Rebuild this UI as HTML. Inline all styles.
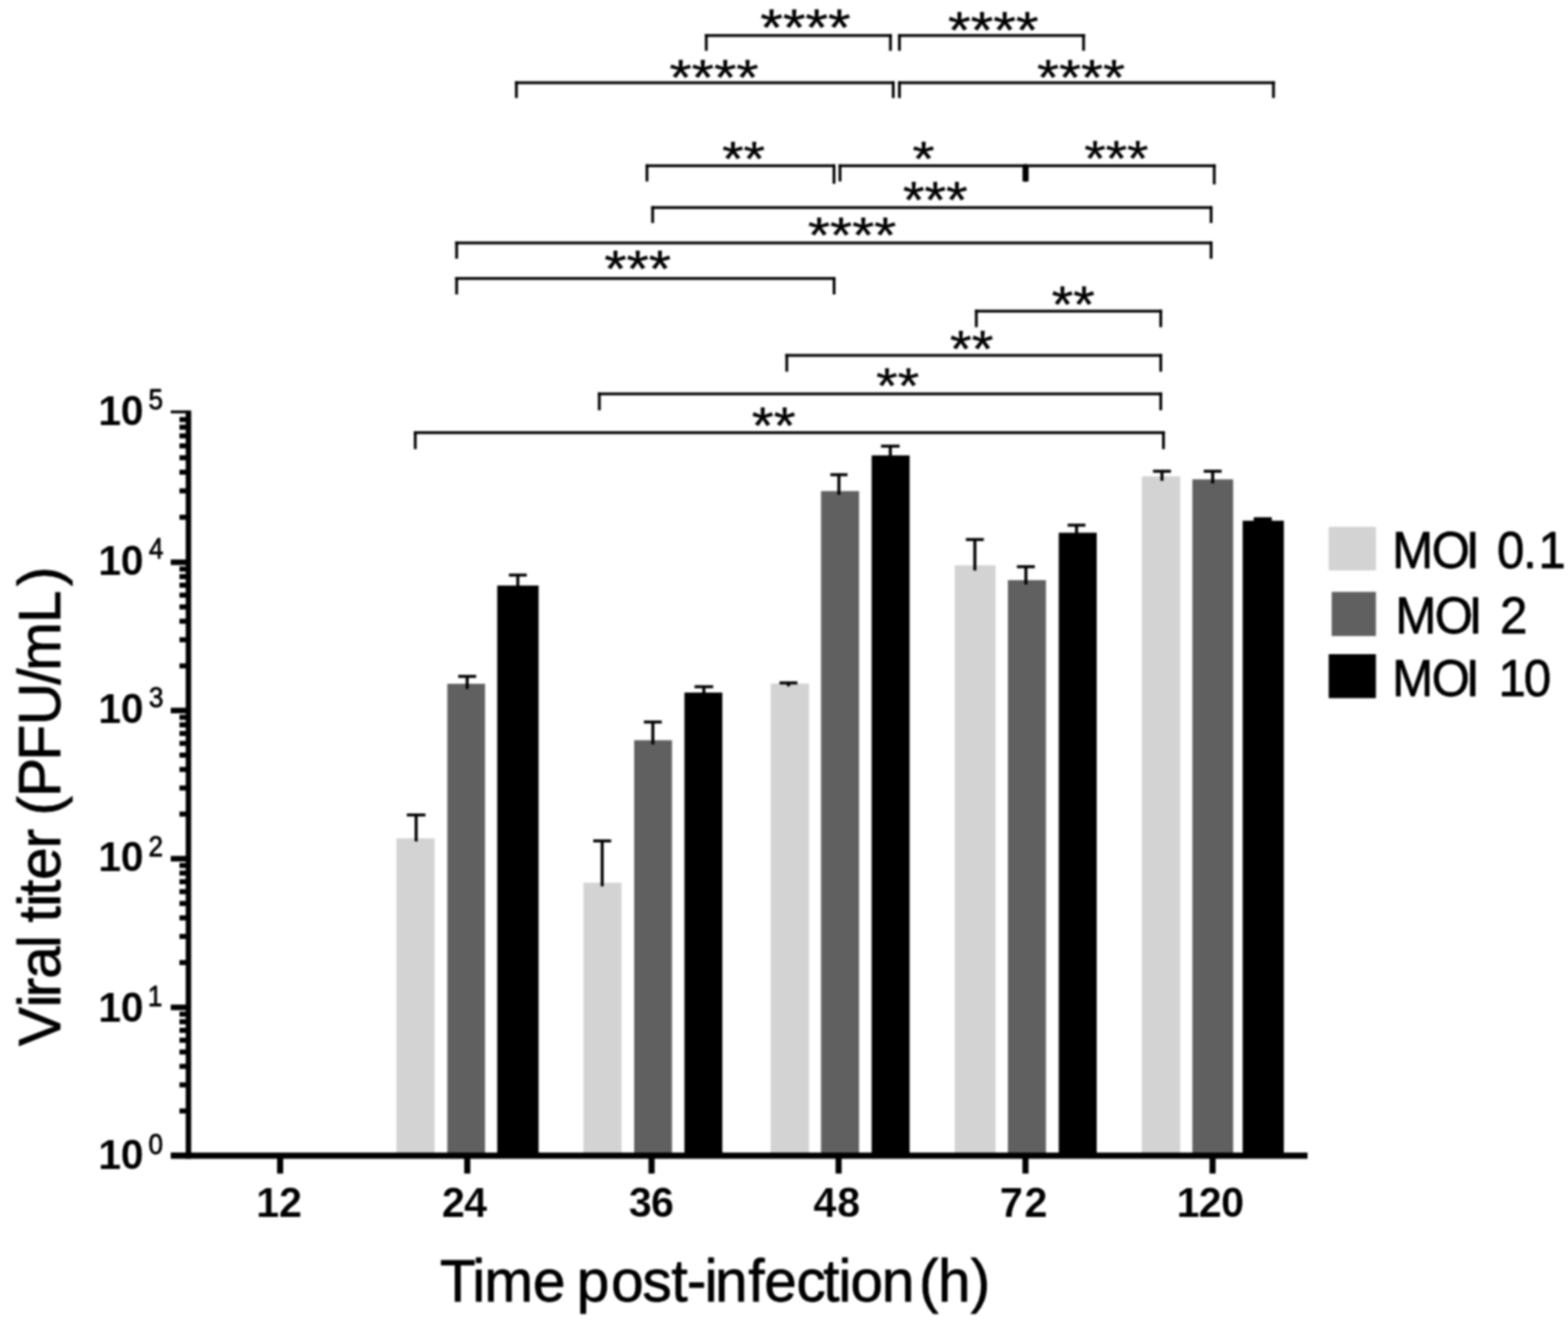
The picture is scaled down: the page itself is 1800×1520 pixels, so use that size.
<!DOCTYPE html>
<html lang="en">
<head>
<meta charset="utf-8">
<title>Viral titer by time post-infection</title>
<style>
html,body{margin:0;padding:0;background:#fff;}
body{width:1800px;height:1520px;overflow:hidden;}
svg{display:block;}
svg text{font-family:"Liberation Sans",sans-serif;white-space:pre;}
</style>
</head>
<body>
<svg width="1800" height="1520" viewBox="0 0 1800 1520" style="filter:blur(0.8px)">
<rect x="0" y="0" width="1800" height="1520" fill="#fff"/>
<rect x="455.1" y="962.4" width="43.7" height="362.1" fill="#d3d3d3"/>
<rect x="513.5" y="785" width="43.3" height="539.5" fill="#606060"/>
<rect x="570.8" y="672.2" width="47.5" height="652.3" fill="#000000"/>
<rect x="669.8" y="1013.4" width="43.7" height="311.1" fill="#d3d3d3"/>
<rect x="728" y="849.8" width="43.4" height="474.7" fill="#606060"/>
<rect x="785.7" y="795.1" width="43.5" height="529.4" fill="#000000"/>
<rect x="884.7" y="784.8" width="44" height="539.7" fill="#d3d3d3"/>
<rect x="942.5" y="563.8" width="43.7" height="760.7" fill="#606060"/>
<rect x="1000.6" y="522.8" width="43.6" height="801.7" fill="#000000"/>
<rect x="1096" y="649" width="46.8" height="675.5" fill="#d3d3d3"/>
<rect x="1157" y="666" width="43.7" height="658.5" fill="#606060"/>
<rect x="1215.4" y="611.6" width="43.6" height="712.9" fill="#000000"/>
<rect x="1310.8" y="546.8" width="44" height="777.7" fill="#d3d3d3"/>
<rect x="1368.8" y="550.3" width="46.8" height="774.2" fill="#606060"/>
<rect x="1426.5" y="597.8" width="47.3" height="726.7" fill="#000000"/>
<rect x="475.95" y="935.6" width="3.5" height="30.4" fill="#000"/>
<rect x="467" y="933.9" width="21.4" height="3.4" fill="#000"/>
<rect x="534.55" y="776.5" width="3.5" height="14.5" fill="#000"/>
<rect x="526" y="774.8" width="20.6" height="3.4" fill="#000"/>
<rect x="592.7" y="660.2" width="3.5" height="12.8" fill="#000"/>
<rect x="584.2" y="658.5" width="20.5" height="3.4" fill="#000"/>
<rect x="689.55" y="965.4" width="3.5" height="52.1" fill="#000"/>
<rect x="681" y="963.7" width="20.6" height="3.4" fill="#000"/>
<rect x="747.7" y="828.9" width="3.5" height="25.7" fill="#000"/>
<rect x="739.2" y="827.2" width="20.5" height="3.4" fill="#000"/>
<rect x="806.25" y="788.4" width="3.5" height="7.6" fill="#000"/>
<rect x="797.3" y="786.7" width="21.4" height="3.4" fill="#000"/>
<rect x="903.35" y="784" width="3.5" height="4" fill="#000"/>
<rect x="894.8" y="782.3" width="20.6" height="3.4" fill="#000"/>
<rect x="961.3" y="545" width="3.5" height="23" fill="#000"/>
<rect x="953.2" y="543.3" width="19.7" height="3.4" fill="#000"/>
<rect x="1020.3" y="512.2" width="3.5" height="11.8" fill="#000"/>
<rect x="1011.4" y="510.5" width="21.3" height="3.4" fill="#000"/>
<rect x="1117.35" y="619.4" width="3.5" height="35.6" fill="#000"/>
<rect x="1108.8" y="617.7" width="20.6" height="3.4" fill="#000"/>
<rect x="1175.95" y="650.6" width="3.5" height="20.4" fill="#000"/>
<rect x="1167.4" y="648.9" width="20.6" height="3.4" fill="#000"/>
<rect x="1234.1" y="602.9" width="3.5" height="10.1" fill="#000"/>
<rect x="1225.6" y="601.2" width="20.5" height="3.4" fill="#000"/>
<rect x="1332.15" y="541" width="3.5" height="11" fill="#000"/>
<rect x="1323.6" y="539.3" width="20.6" height="3.4" fill="#000"/>
<rect x="1390.35" y="541" width="3.5" height="14" fill="#000"/>
<rect x="1381.8" y="539.3" width="20.6" height="3.4" fill="#000"/>
<rect x="1447.9" y="595.5" width="3.5" height="2.5" fill="#000"/>
<rect x="1439.4" y="593.8" width="20.5" height="3.4" fill="#000"/>
<rect x="213.2" y="471.25" width="6.3" height="859.05" fill="#000"/>
<rect x="196" y="1323.2" width="1305" height="7.1" fill="#000"/>
<rect x="196" y="1323.5" width="18.2" height="6.4" fill="#000"/>
<rect x="196" y="1153.3" width="18.2" height="6.4" fill="#000"/>
<rect x="196" y="982.6" width="18.2" height="6.4" fill="#000"/>
<rect x="196" y="812.5" width="18.2" height="6.4" fill="#000"/>
<rect x="196" y="642.3" width="18.2" height="6.4" fill="#000"/>
<rect x="196" y="471.25" width="18.2" height="3.25" fill="#000"/>
<rect x="206" y="1272.56" width="8.2" height="5.8" fill="#000"/>
<rect x="206" y="1242.59" width="8.2" height="5.8" fill="#000"/>
<rect x="206" y="1221.33" width="8.2" height="5.8" fill="#000"/>
<rect x="206" y="1204.84" width="8.2" height="5.8" fill="#000"/>
<rect x="206" y="1191.36" width="8.2" height="5.8" fill="#000"/>
<rect x="206" y="1179.96" width="8.2" height="5.8" fill="#000"/>
<rect x="206" y="1170.09" width="8.2" height="5.8" fill="#000"/>
<rect x="206" y="1161.39" width="8.2" height="5.8" fill="#000"/>
<rect x="206" y="1102.21" width="8.2" height="5.8" fill="#000"/>
<rect x="206" y="1072.16" width="8.2" height="5.8" fill="#000"/>
<rect x="206" y="1050.83" width="8.2" height="5.8" fill="#000"/>
<rect x="206" y="1034.29" width="8.2" height="5.8" fill="#000"/>
<rect x="206" y="1020.77" width="8.2" height="5.8" fill="#000"/>
<rect x="206" y="1009.34" width="8.2" height="5.8" fill="#000"/>
<rect x="206" y="999.44" width="8.2" height="5.8" fill="#000"/>
<rect x="206" y="990.71" width="8.2" height="5.8" fill="#000"/>
<rect x="206" y="931.69" width="8.2" height="5.8" fill="#000"/>
<rect x="206" y="901.74" width="8.2" height="5.8" fill="#000"/>
<rect x="206" y="880.49" width="8.2" height="5.8" fill="#000"/>
<rect x="206" y="864.01" width="8.2" height="5.8" fill="#000"/>
<rect x="206" y="850.54" width="8.2" height="5.8" fill="#000"/>
<rect x="206" y="839.15" width="8.2" height="5.8" fill="#000"/>
<rect x="206" y="829.28" width="8.2" height="5.8" fill="#000"/>
<rect x="206" y="820.58" width="8.2" height="5.8" fill="#000"/>
<rect x="206" y="761.56" width="8.2" height="5.8" fill="#000"/>
<rect x="206" y="731.59" width="8.2" height="5.8" fill="#000"/>
<rect x="206" y="710.33" width="8.2" height="5.8" fill="#000"/>
<rect x="206" y="693.84" width="8.2" height="5.8" fill="#000"/>
<rect x="206" y="680.36" width="8.2" height="5.8" fill="#000"/>
<rect x="206" y="668.96" width="8.2" height="5.8" fill="#000"/>
<rect x="206" y="659.09" width="8.2" height="5.8" fill="#000"/>
<rect x="206" y="650.39" width="8.2" height="5.8" fill="#000"/>
<rect x="206" y="590.91" width="8.2" height="5.8" fill="#000"/>
<rect x="206" y="560.68" width="8.2" height="5.8" fill="#000"/>
<rect x="206" y="539.23" width="8.2" height="5.8" fill="#000"/>
<rect x="206" y="522.59" width="8.2" height="5.8" fill="#000"/>
<rect x="206" y="508.99" width="8.2" height="5.8" fill="#000"/>
<rect x="206" y="497.5" width="8.2" height="5.8" fill="#000"/>
<rect x="206" y="487.54" width="8.2" height="5.8" fill="#000"/>
<rect x="206" y="478.76" width="8.2" height="5.8" fill="#000"/>
<rect x="318.1" y="1329.3" width="7" height="18" fill="#000"/>
<rect x="532.9" y="1329.3" width="7" height="18" fill="#000"/>
<rect x="744.5" y="1329.3" width="7" height="18" fill="#000"/>
<rect x="959.2" y="1329.3" width="7" height="18" fill="#000"/>
<rect x="1173.7" y="1329.3" width="7" height="18" fill="#000"/>
<rect x="1388.5" y="1329.3" width="7" height="18" fill="#000"/>
<rect x="809.2" y="39.2" width="214.6" height="3.2" fill="#000"/>
<rect x="809.2" y="39.2" width="3.2" height="19.1" fill="#000"/>
<rect x="1020.6" y="39.2" width="3.2" height="19.1" fill="#000"/>
<rect x="1030.9" y="39.2" width="214.6" height="3.2" fill="#000"/>
<rect x="1030.9" y="39.2" width="3.2" height="19.1" fill="#000"/>
<rect x="1242.3" y="39.2" width="3.2" height="19.1" fill="#000"/>
<rect x="591.2" y="93.4" width="435.8" height="3.2" fill="#000"/>
<rect x="591.2" y="93.4" width="3.2" height="19.1" fill="#000"/>
<rect x="1023.8" y="93.4" width="3.2" height="19.1" fill="#000"/>
<rect x="1030.9" y="93.4" width="432.6" height="3.2" fill="#000"/>
<rect x="1030.9" y="93.4" width="3.2" height="19.1" fill="#000"/>
<rect x="1460.3" y="93.4" width="3.2" height="19.1" fill="#000"/>
<rect x="741.1" y="188.7" width="217.9" height="3.2" fill="#000"/>
<rect x="741.1" y="188.7" width="3.2" height="19.6" fill="#000"/>
<rect x="955.8" y="188.7" width="3.2" height="22.3" fill="#000"/>
<rect x="962.7" y="188.7" width="216.1" height="3.2" fill="#000"/>
<rect x="962.7" y="188.7" width="3.2" height="19.6" fill="#000"/>
<rect x="1175.6" y="188.7" width="3.2" height="19.6" fill="#000"/>
<rect x="1175.6" y="188.7" width="219.9" height="3.2" fill="#000"/>
<rect x="1175.6" y="188.7" width="3.2" height="19.6" fill="#000"/>
<rect x="1392.3" y="188.7" width="3.2" height="23" fill="#000"/>
<rect x="747.6" y="236.7" width="644.3" height="3.2" fill="#000"/>
<rect x="747.6" y="236.7" width="3.2" height="19.3" fill="#000"/>
<rect x="1388.7" y="236.7" width="3.2" height="19.3" fill="#000"/>
<rect x="522.6" y="277.3" width="869.3" height="3.2" fill="#000"/>
<rect x="522.6" y="277.3" width="3.2" height="19.7" fill="#000"/>
<rect x="1388.7" y="277.3" width="3.2" height="19.7" fill="#000"/>
<rect x="522.6" y="318.1" width="436.5" height="3.2" fill="#000"/>
<rect x="522.6" y="318.1" width="3.2" height="19.9" fill="#000"/>
<rect x="955.9" y="318.1" width="3.2" height="19.9" fill="#000"/>
<rect x="1119.2" y="355.6" width="214.9" height="3.2" fill="#000"/>
<rect x="1119.2" y="355.6" width="3.2" height="20" fill="#000"/>
<rect x="1330.9" y="355.6" width="3.2" height="20" fill="#000"/>
<rect x="901.6" y="406.4" width="432.5" height="3.2" fill="#000"/>
<rect x="901.6" y="406.4" width="3.2" height="20.3" fill="#000"/>
<rect x="1330.9" y="406.4" width="3.2" height="20.3" fill="#000"/>
<rect x="686.4" y="450.6" width="647.7" height="3.2" fill="#000"/>
<rect x="686.4" y="450.6" width="3.2" height="20.4" fill="#000"/>
<rect x="1330.9" y="450.6" width="3.2" height="20.4" fill="#000"/>
<rect x="475.1" y="495.1" width="862.1" height="3.2" fill="#000"/>
<rect x="475.1" y="495.1" width="3.2" height="20.5" fill="#000"/>
<rect x="1334" y="495.1" width="3.2" height="20.5" fill="#000"/>
<rect x="1173.8" y="190" width="7" height="18.3" fill="#000"/>
<rect x="1439.4" y="594.5" width="20.5" height="4" fill="#000"/>
<text transform="matrix(1.1207 0 0 1 872.73 51.96)" font-size="59.43" fill="#000" stroke="#000" stroke-width="0.4" stroke-linejoin="round">****</text>
<text transform="matrix(1.1240 0 0 1 1088.23 54.76)" font-size="59.43" fill="#000" stroke="#000" stroke-width="0.4" stroke-linejoin="round">****</text>
<text transform="matrix(1.1494 0 0 1 768.55 108.69)" font-size="57.14" fill="#000" stroke="#000" stroke-width="0.4" stroke-linejoin="round">****</text>
<text transform="matrix(1.1333 0 0 1 1190.57 108.69)" font-size="57.14" fill="#000" stroke="#000" stroke-width="0.4" stroke-linejoin="round">****</text>
<text transform="matrix(1.1372 0 0 1 828.89 200.8)" font-size="55.71" fill="#000" stroke="#000" stroke-width="0.4" stroke-linejoin="round">**</text>
<text transform="matrix(1.1679 0 0 1 1047.46 200.8)" font-size="55.71" fill="#000" stroke="#000" stroke-width="0.4" stroke-linejoin="round">*</text>
<text transform="matrix(1.0870 0 0 1 1244.7 201.58)" font-size="58" fill="#000" stroke="#000" stroke-width="0.4" stroke-linejoin="round">***</text>
<text transform="matrix(1.0676 0 0 1 1036.38 250.45)" font-size="59.71" fill="#000" stroke="#000" stroke-width="0.4" stroke-linejoin="round">***</text>
<text transform="matrix(1.1402 0 0 1 927.46 290.39)" font-size="57.14" fill="#000" stroke="#000" stroke-width="0.4" stroke-linejoin="round">****</text>
<text transform="matrix(1.1025 0 0 1 693.85 329.46)" font-size="59.43" fill="#000" stroke="#000" stroke-width="0.4" stroke-linejoin="round">***</text>
<text transform="matrix(1.0683 0 0 1 1207.19 369.76)" font-size="59.43" fill="#000" stroke="#000" stroke-width="0.4" stroke-linejoin="round">**</text>
<text transform="matrix(1.0774 0 0 1 1090.58 421.16)" font-size="59.43" fill="#000" stroke="#000" stroke-width="0.4" stroke-linejoin="round">**</text>
<text transform="matrix(1.0947 0 0 1 1005.79 462.88)" font-size="58" fill="#000" stroke="#000" stroke-width="0.4" stroke-linejoin="round">**</text>
<text transform="matrix(1.0947 0 0 1 863.07 508.76)" font-size="58.86" fill="#000" stroke="#000" stroke-width="0.4" stroke-linejoin="round">**</text>
<text transform="translate(0 1342.27) scale(1.0000 1.0000)" x="112.79 138.49" y="0" font-size="47.6" font-weight="bold" fill="#000" stroke="#fff" stroke-width="0.2" stroke-linejoin="round">10</text>
<text transform="translate(0 1325.2) scale(0.9000 1.0000)" x="189.41" y="0" font-size="33.2" fill="#000" stroke="#000" stroke-width="0.9" stroke-linejoin="round">0</text>
<text transform="translate(0 1172.77) scale(1.0000 1.0000)" x="112.79 138.49" y="0" font-size="47.6" font-weight="bold" fill="#000" stroke="#fff" stroke-width="0.2" stroke-linejoin="round">10</text>
<text transform="translate(0 1154.5) scale(0.9000 1.0000)" x="188.55" y="0" font-size="33.2" fill="#000" stroke="#000" stroke-width="0.9" stroke-linejoin="round">1</text>
<text transform="translate(0 1000.07) scale(1.0000 1.0000)" x="112.79 138.49" y="0" font-size="47.6" font-weight="bold" fill="#000" stroke="#fff" stroke-width="0.2" stroke-linejoin="round">10</text>
<text transform="translate(0 982.6) scale(0.9000 1.0000)" x="189.45" y="0" font-size="33.2" fill="#000" stroke="#000" stroke-width="0.9" stroke-linejoin="round">2</text>
<text transform="translate(0 830.07) scale(1.0000 1.0000)" x="112.79 138.49" y="0" font-size="47.6" font-weight="bold" fill="#000" stroke="#fff" stroke-width="0.2" stroke-linejoin="round">10</text>
<text transform="translate(0 811.5) scale(0.9000 1.0000)" x="189.98" y="0" font-size="33.2" fill="#000" stroke="#000" stroke-width="0.9" stroke-linejoin="round">3</text>
<text transform="translate(0 659.57) scale(1.0000 1.0000)" x="112.79 138.49" y="0" font-size="47.6" font-weight="bold" fill="#000" stroke="#fff" stroke-width="0.2" stroke-linejoin="round">10</text>
<text transform="translate(0 641.3) scale(0.9000 1.0000)" x="189.98" y="0" font-size="33.2" fill="#000" stroke="#000" stroke-width="0.9" stroke-linejoin="round">4</text>
<text transform="translate(0 488.17) scale(1.0000 1.0000)" x="112.79 138.49" y="0" font-size="47.6" font-weight="bold" fill="#000" stroke="#fff" stroke-width="0.2" stroke-linejoin="round">10</text>
<text transform="translate(0 469.9) scale(0.9000 1.0000)" x="189.4" y="0" font-size="33.2" fill="#000" stroke="#000" stroke-width="0.9" stroke-linejoin="round">5</text>
<text transform="translate(0 1396.6) scale(1.0000 1.0000)" x="294.09 320.26" y="0" font-size="47.6" font-weight="bold" fill="#000" stroke="#fff" stroke-width="0.2" stroke-linejoin="round">12</text>
<text transform="translate(0 1396.6) scale(1.0000 1.0000)" x="507.36 532.8" y="0" font-size="47.6" font-weight="bold" fill="#000" stroke="#fff" stroke-width="0.2" stroke-linejoin="round">24</text>
<text transform="translate(0 1396.6) scale(1.0000 1.0000)" x="721.64 747.18" y="0" font-size="47.6" font-weight="bold" fill="#000" stroke="#fff" stroke-width="0.2" stroke-linejoin="round">36</text>
<text transform="translate(0 1396.6) scale(1.0000 1.0000)" x="933.65 960.88" y="0" font-size="47.6" font-weight="bold" fill="#000" stroke="#fff" stroke-width="0.2" stroke-linejoin="round">48</text>
<text transform="translate(0 1396.6) scale(1.0000 1.0000)" x="1147.64 1176.06" y="0" font-size="47.6" font-weight="bold" fill="#000" stroke="#fff" stroke-width="0.2" stroke-linejoin="round">72</text>
<text transform="translate(0 1396.6) scale(1.0000 1.0000)" x="1350.69 1376.06 1401.79" y="0" font-size="47.6" font-weight="bold" fill="#000" stroke="#fff" stroke-width="0.2" stroke-linejoin="round">120</text>
<text transform="translate(0 651.8) scale(1.0000 1.0420)" x="1598.33 1643.54 1682.66 1698.36 1718.55 1748.59 1766.09" y="0" font-size="56.5" fill="#000" stroke="#000" stroke-width="0.8" stroke-linejoin="round">MOI 0.1</text>
<text transform="translate(0 726.7) scale(1.0000 1.0420)" x="1601.73 1647.09 1686.11 1701.81 1722.07" y="0" font-size="56.5" fill="#000" stroke="#000" stroke-width="0.8" stroke-linejoin="round">MOI 2</text>
<text transform="translate(0 798.6) scale(1.0000 1.0420)" x="1598.33 1643.54 1682.66 1698.36 1720.19 1749.35" y="0" font-size="56.5" fill="#000" stroke="#000" stroke-width="0.8" stroke-linejoin="round">MOI 10</text>
<text transform="translate(0 1494.1) scale(1.0000 1.0120)" x="505.02 542.31 556.1 611.72 649.15 662.03 701.44 737.43 770.66 788.46 808.71 820.74 859.07 877.32 914.17 944.91 962.51 976.24 1012.24 1049.67 1054.96 1076.66 1114.16" y="0" font-size="67.3" fill="#000" stroke="#000" stroke-width="0.8" stroke-linejoin="round">Time post-infection (h)</text>
<text transform="translate(69.2 0) rotate(-90) scale(1.0000 1.0200)" x="-1200.96 -1156.44 -1145.11 -1123.66 -1088.54 -1073.58 -1058.89 -1040.94 -1028.59 -1010.18 -973.91 -951.49 -936.24 -915.12 -873.16 -832.56 -786.04 -770.2 -715.16 -673.04" y="0" font-size="67.3" fill="#000" stroke="#000" stroke-width="0.8" stroke-linejoin="round">Viral titer (PFU/mL)</text>
<rect x="1525.3" y="604.8" width="54.2" height="50.1" fill="#d3d3d3"/>
<rect x="1528.7" y="679.5" width="50.8" height="50.7" fill="#606060"/>
<rect x="1525.3" y="751" width="54.2" height="50.5" fill="#000000"/>
</svg>
</body>
</html>
